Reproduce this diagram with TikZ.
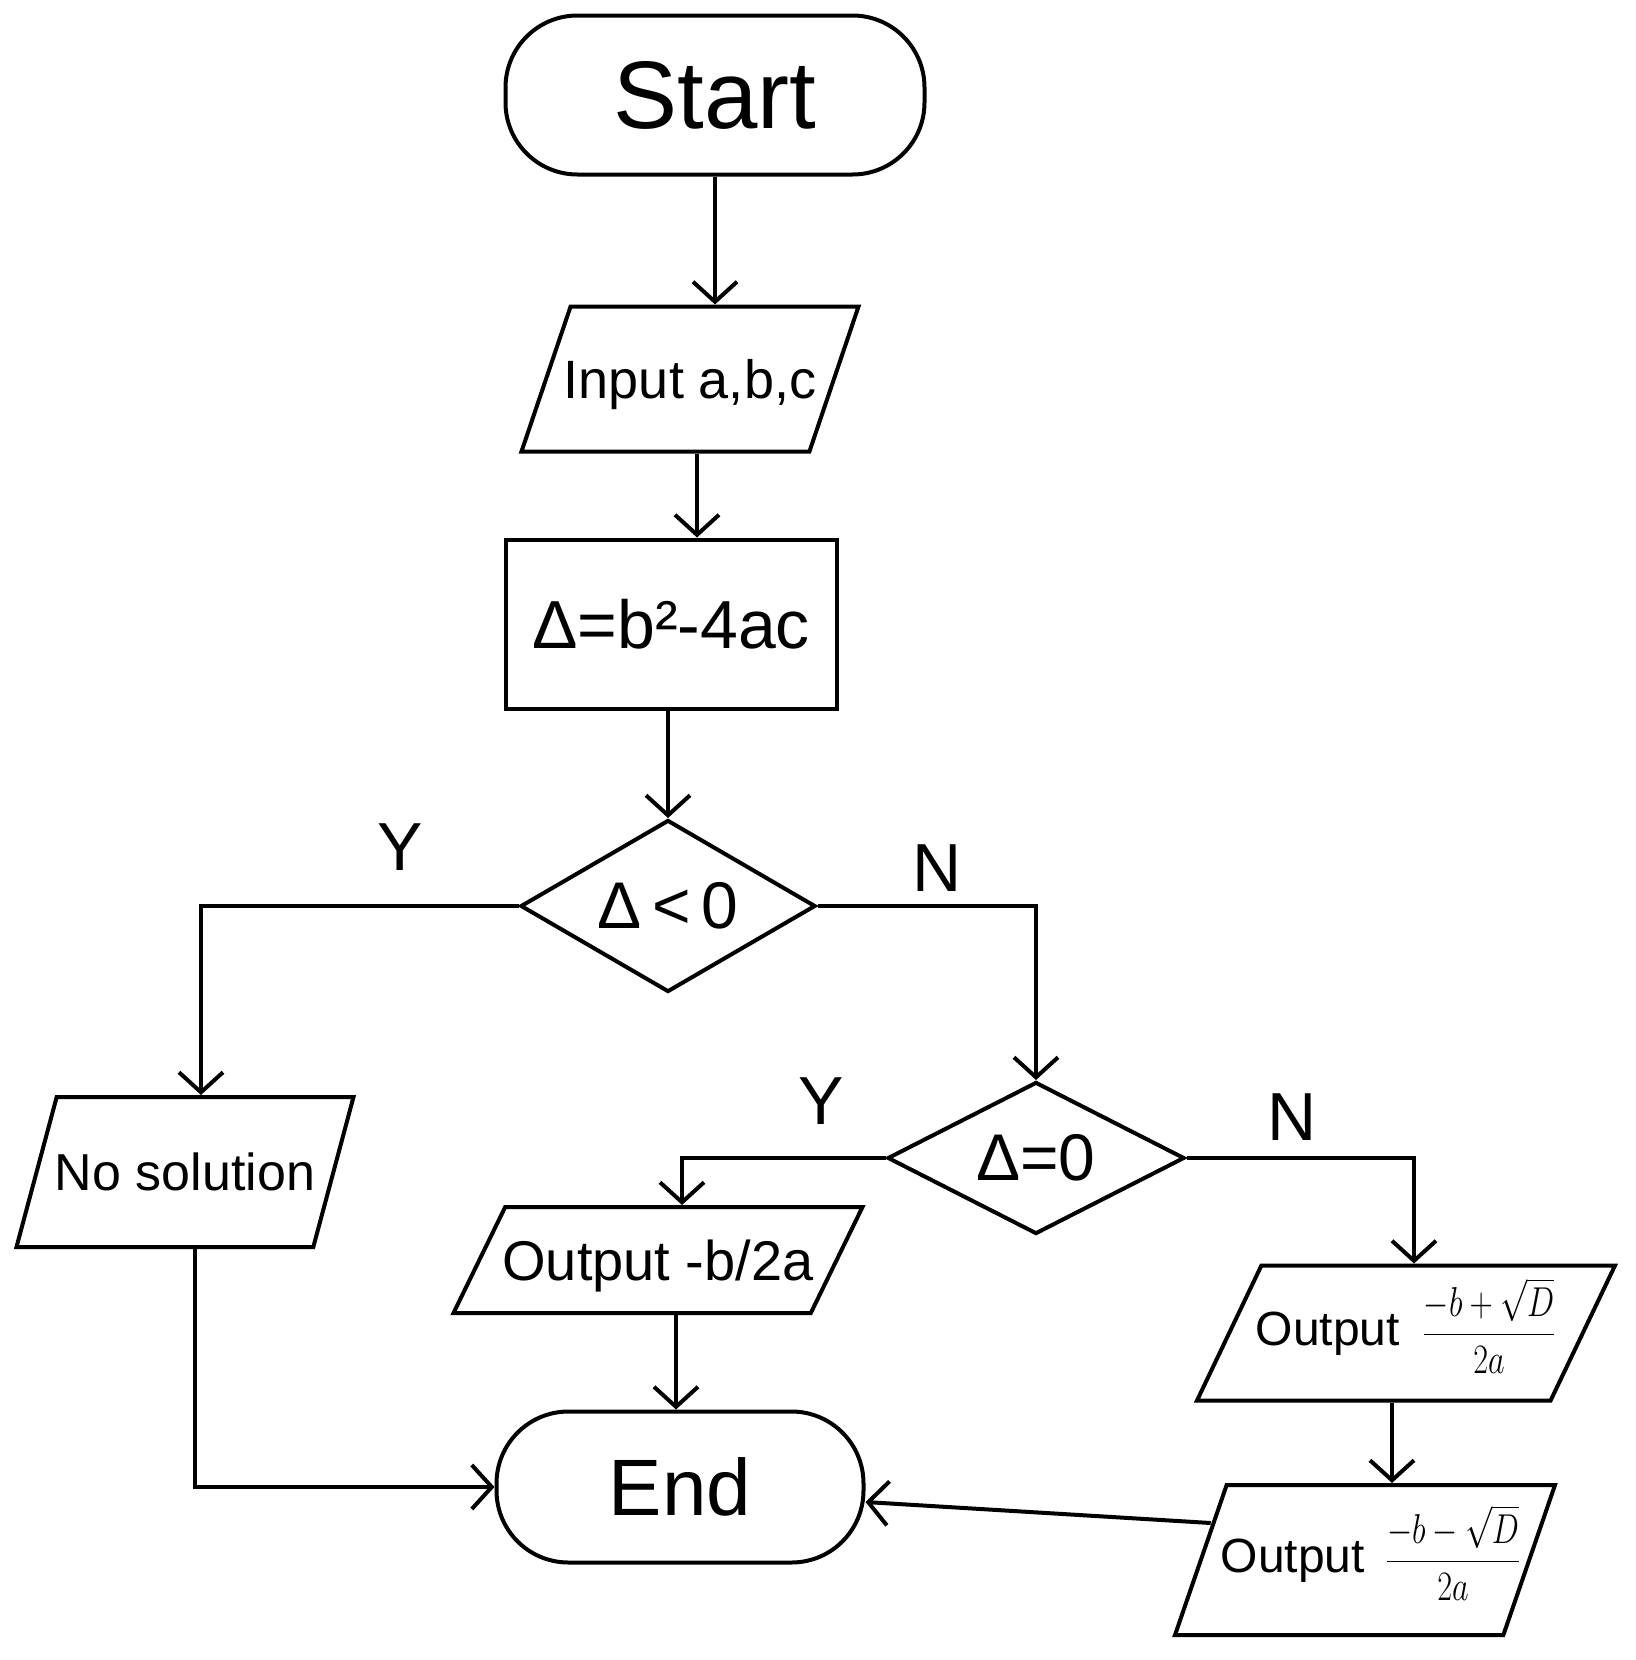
\RequirePackage{fix-cm}
\documentclass[tikz,border=0pt]{standalone}
\usepackage{fontspec}
\usepackage{amsmath}
\usepackage{graphicx}
\setmainfont{Liberation Sans}
\usetikzlibrary{arrows.meta,shapes.geometric,calc}
\newcommand{\zbox}[1]{\makebox[0pt]{#1}}
\newcommand{\hfrac}[2]{{\fontsize{19}{22}\selectfont\scalebox{0.85}[1.1]{$\dfrac{#1}{#2}$}}}
\begin{document}
\begin{tikzpicture}[x=0.5pt,y=-0.5pt,
  every node/.style={font=\fontsize{27}{32}\selectfont},
  base/.style={draw=black, line width=2pt, inner sep=0pt},
  term/.style={base, rectangle, rounded corners=36pt},
  proc/.style={base, rectangle},
  dec/.style={base, diamond},
  io/.style={base, trapezium, trapezium stretches body},
  arr/.style={line width=2pt, -{Straight Barb[length=10pt,width=22pt]}},
  lbl/.style={font=\fontsize{34}{40}\selectfont}
]
\useasboundingbox (0,0) rectangle (1636,1660);

\node[term, minimum width=209.5pt, minimum height=79.5pt, font=\fontsize{48}{56}\selectfont] (start) at (715,95) {Start};
\node[io, trapezium left angle=71.3, trapezium right angle=108.7, minimum width=168.5pt, text height=45.9pt, text depth=26.6pt] (input) at (690,379) {\zbox{Input a,b,c}};
\node[proc, minimum width=165.5pt, minimum height=84.5pt, font=\fontsize{34}{40}\selectfont] (delta) at (671,624) {Δ=b²-4ac};
\node[dec, minimum width=147.5pt, minimum height=86pt, font=\fontsize{33}{40}\selectfont] (d1) at (668,906) {\zbox{Δ\,<\,0}};
\node[dec, minimum width=148.5pt, minimum height=76pt, font=\fontsize{33}{40}\selectfont] (d2) at (1036,1158) {\zbox{Δ=0}};
\node[io, trapezium left angle=75, trapezium right angle=105, minimum width=168.5pt, text height=46.8pt, text depth=28.2pt, font=\fontsize{26}{30}\selectfont] (nosol) at (185,1172) {\zbox{No solution}};
\node[io, trapezium left angle=64, trapezium right angle=116, minimum width=204.5pt, text height=36.5pt, text depth=16.5pt, font=\fontsize{28}{32}\selectfont] (out1) at (658,1260) {\zbox{Output -b/2a}};
\node[io, trapezium left angle=64.5, trapezium right angle=115.5, minimum width=209pt, text height=39.75pt, text depth=27.75pt, font=\fontsize{24}{30}\selectfont] (out2) at (1406,1333) {\zbox{Output\hspace{11pt}\hfrac{-b+\sqrt{D}}{2a}}};
\node[io, trapezium left angle=71, trapezium right angle=109, minimum width=190pt, text height=43.5pt, text depth=31.5pt, font=\fontsize{24}{30}\selectfont] (out3) at (1365,1560) {\zbox{\hspace{6pt}Output\hspace{10pt}\hfrac{-b-\sqrt{D}}{2a}}};
\node[term, minimum width=183.5pt, minimum height=75.5pt, font=\fontsize{40}{48}\selectfont] (end) at (680,1487) {End};

\node[lbl] (y1) at (400,847) {Y};
\node[lbl] (n1) at (937,868) {N};
\node[lbl] (y2) at (821,1101) {Y};
\node[lbl] (n2) at (1292,1117) {N};

\draw[arr] (start.south) -- (start.south |- input.north);
\draw[arr] ([xshift=3.5pt]input.center |- input.south) -- ([xshift=3.5pt]input.center |- delta.north);
\draw[arr] (d1.north |- delta.south) -- (d1.north);
\draw[arr] (d1.west) -| ([xshift=8pt]nosol.center |- nosol.north);
\draw[arr] (d1.east) -| (d2.north);
\draw[arr] (d2.west) -| ([xshift=12pt]out1.center |- out1.north);
\draw[arr] (d2.east) -| ([xshift=4pt]out2.center |- out2.north);
\draw[arr] ([xshift=-7pt]out2.center |- out2.south) -- ([xshift=-7pt]out2.center |- out3.north);
\draw[arr] ([xshift=9pt]out1.center |- out1.south) -- ([xshift=9pt]out1.center |- end.north);
\draw[arr] ([xshift=5pt]nosol.center |- nosol.south) |- (end.west);
\draw[arr] ([xshift=6pt,yshift=18.5pt]out3.west) -- ([yshift=-7.5pt]end.east);
\end{tikzpicture}
\end{document}
